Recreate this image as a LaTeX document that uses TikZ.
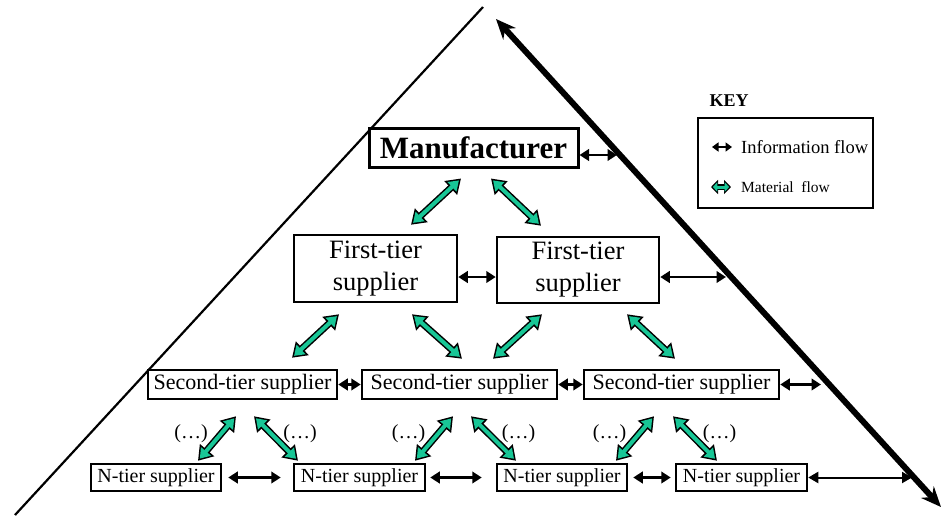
\documentclass[tikz,border=0pt]{standalone}
\usepackage{fontspec}
\setmainfont{Liberation Serif}
\usetikzlibrary{arrows.meta,calc}
\definecolor{matgreen}{RGB}{24,198,150}

\tikzset{
  tierbox/.style={draw, line width=2.5pt, rectangle, inner sep=0pt},
  info/.style={line width=2.8pt, {Triangle[length=9.5pt,width=11.5pt]}-{Triangle[length=9.5pt,width=11.5pt]}},
  matflow/.style={line width=4pt, draw=matgreen, shorten <=2.8pt, shorten >=2.8pt,
    {Triangle[length=9.5pt,width=12.5pt]}-{Triangle[length=9.5pt,width=12.5pt]},
    preaction={draw=black, line width=7pt, shorten <=0pt, shorten >=0pt,
      arrows={Triangle[length=14pt,width=18pt]-Triangle[length=14pt,width=18pt]}}},
  keymat/.style={line width=3pt, draw=matgreen, shorten <=1.8pt, shorten >=1.8pt,
    {Triangle[length=4.5pt,width=9pt]}-{Triangle[length=4.5pt,width=9pt]},
    preaction={draw=black, line width=6pt, shorten <=0pt, shorten >=0pt,
      arrows={Triangle[length=7pt,width=14pt]-Triangle[length=7pt,width=14pt]}}},
  dots/.style={inner sep=0pt, font=\fontsize{20}{22}\selectfont}
}

\begin{document}
\begin{tikzpicture}[x=1pt,y=-1pt]
\useasboundingbox (0,0) rectangle (943,517);
% pyramid sides
\coordinate (apex) at (483,7);
\coordinate (base) at (15,515);
\coordinate (ltop) at (496,19);
\coordinate (lbot) at (941,507);
\draw[line width=2.2pt] (apex) -- (base);
\draw[line width=6pt, {Stealth[length=20pt,width=17pt]}-{Stealth[length=20pt,width=17pt]}] (ltop) -- (lbot);

% tiers
\node[tierbox, line width=3pt, minimum width=209pt, minimum height=39pt, font=\fontsize{31}{34}\selectfont\bfseries] (man) at (473.5,147.5) {Manufacturer};

\node[tierbox, minimum width=163pt, minimum height=67pt, align=center, font=\fontsize{26.5}{32}\selectfont] (f1) at (375.5,268.5) {First-tier\\supplier};
\node[tierbox, minimum width=162pt, minimum height=66pt, align=center, font=\fontsize{26.5}{32}\selectfont] (f2) at (578,270) {First-tier\\supplier};

\node[tierbox, minimum width=189pt, minimum height=29pt, font=\fontsize{22}{24}\selectfont] (s1) at (242.5,384.5) {Second-tier supplier};
\node[tierbox, minimum width=195pt, minimum height=29pt, font=\fontsize{22}{24}\selectfont] (s2) at (459.5,384.5) {Second-tier supplier};
\node[tierbox, minimum width=195pt, minimum height=29pt, font=\fontsize{22}{24}\selectfont] (s3) at (681.5,384.5) {Second-tier supplier};

\node[tierbox, minimum width=130pt, minimum height=27pt, font=\fontsize{20}{22}\selectfont] (n1) at (156,477.5) {N-tier supplier};
\node[tierbox, minimum width=131pt, minimum height=27pt, font=\fontsize{20}{22}\selectfont] (n2) at (359.5,477.5) {N-tier supplier};
\node[tierbox, minimum width=130pt, minimum height=27pt, font=\fontsize{20}{22}\selectfont] (n3) at (562,477.5) {N-tier supplier};
\node[tierbox, minimum width=131pt, minimum height=27pt, font=\fontsize{20}{22}\selectfont] (n4) at (741.5,477.5) {N-tier supplier};

\foreach \x [count=\i] in {191,300,408.5,518.5,609.5,719.5}
  \node[dots] (d\i) at (\x,434) {(…)};

% information flow
\coordinate (mline) at (617,155);
\coordinate (fline) at (726,277);
\coordinate (sline) at (821,384.5);
\coordinate (nline) at (912,477.5);
\draw[info] (man.east |- mline) -- (mline);
\draw[info] (f1.east |- fline) -- (f2.west |- fline);
\draw[info] (f2.east |- fline) -- (fline);
\draw[info] (s1.east) -- (s2.west);
\draw[info] (s2.east) -- (s3.west);
\draw[info] (s3.east) -- (sline);
\draw[info, shorten <=6pt, shorten >=12pt] (n1.east) -- (n2.west);
\draw[info, shorten <=4pt, shorten >=14pt] (n2.east) -- (n3.west);
\draw[info, shorten <=5pt, shorten >=4pt] (n3.east) -- (n4.west);
\draw[line width=2pt, {Triangle[length=10pt,width=11pt]}-{Triangle[length=10pt,width=11pt]}] (n4.east |- nline) -- (nline);

% material flow
\draw[matflow] ($(man.south)+(-12.5,10)$) -- ($(f1.north)+(35.5,-9)$);
\draw[matflow] ($(man.south)+(17.5,10)$) -- ($(f2.north)+(-37,-10)$);
\draw[matflow] ($(f1.south)+(-36.5,11)$) -- ($(s1.north)+(49.5,-11)$);
\draw[matflow] ($(f1.south)+(36.5,11)$) -- ($(s2.north)+(2.5,-10)$);
\draw[matflow] ($(f2.south)+(-36,10)$) -- ($(s2.north)+(33.5,-10)$);
\draw[matflow] ($(f2.south)+(49,10)$) -- ($(s3.north)+(-6.5,-10)$);
\draw[matflow] ($(s1.south)+(-6.5,16)$) -- ($(n1.north)+(42,-2)$);
\draw[matflow] ($(s1.south)+(11.5,16)$) -- ($(n2.north)+(-61.5,-2)$);
\draw[matflow] ($(s2.south)+(-6.5,16)$) -- ($(n2.north)+(55.5,-2)$);
\draw[matflow] ($(s2.south)+(11.5,16)$) -- ($(n3.north)+(-46,-2)$);
\draw[matflow] ($(s3.south)+(-27.5,16)$) -- ($(n3.north)+(54,-2)$);
\draw[matflow] ($(s3.south)+(-8.5,16)$) -- ($(n4.north)+(-24.5,-2)$);

% key
\node[font=\fontsize{18}{20}\selectfont\bfseries, inner sep=0pt] (keytitle) at (729,101) {KEY};
\node[draw, line width=1.8pt, minimum width=175pt, minimum height=90pt] (keybox) at (785.5,163) {};
\coordinate (kia) at (712,147);
\coordinate (kib) at (732,147);
\coordinate (kma) at (711,187);
\coordinate (kmb) at (731,187);
\draw[line width=2.2pt, {Triangle[length=6.5pt,width=9pt]}-{Triangle[length=6.5pt,width=9pt]}] (kia) -- (kib);
\draw[keymat] (kma) -- (kmb);
\node[anchor=west, inner sep=0pt, font=\fontsize{18.5}{20}\selectfont] (keyinfo) at (741,147) {Information flow};
\node[anchor=west, inner sep=0pt, font=\fontsize{15.5}{18}\selectfont] (keymatl) at (741,187) {Material~ flow};
\end{tikzpicture}
\end{document}
